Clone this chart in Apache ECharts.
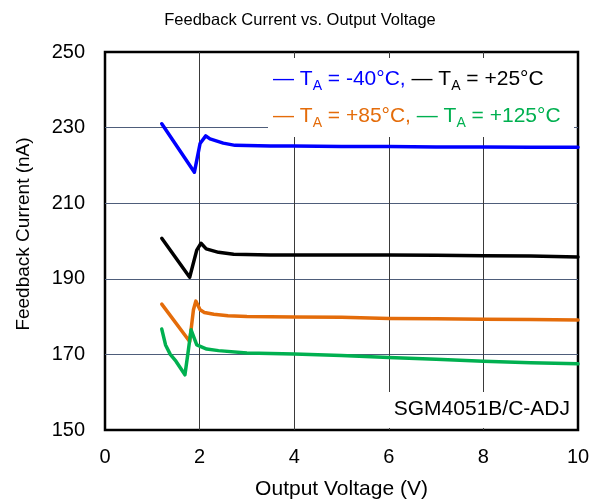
<!DOCTYPE html>
<html><head><meta charset="utf-8">
<script src="https://cdn.jsdelivr.net/npm/echarts@6/dist/echarts.min.js"></script>
<style>html,body{margin:0;padding:0;background:#fff}#c{width:600px;height:501px}</style>
</head><body><div id="c"></div>
<script>
const chartTitle = 'Feedback Current vs. Output Voltage';
const xAxisName = 'Output Voltage (V)';
const yAxisName = 'Feedback Current (nA)';
const annotation = 'SGM4051B/C-ADJ';

const xBlue = [1.2, 1.89, 1.95, 2.01, 2.13, 2.22, 2.5, 2.75, 3.5, 4, 5, 6, 7, 8, 9, 10];
const yBlue = [231, 218.2, 222, 225.8, 227.8, 227, 225.9, 225.3, 225.1, 225.1, 225, 225, 224.9, 224.9, 224.8, 224.8];

const xBlack = [1.2, 1.79, 1.94, 2.03, 2.14, 2.4, 2.72, 3.5, 4, 5, 6, 7, 8, 9, 10];
const yBlack = [200.7, 190.4, 197.6, 199.4, 197.9, 197, 196.5, 196.3, 196.3, 196.3, 196.3, 196.2, 196.1, 196, 195.8];

const xOrange = [1.2, 1.79, 1.87, 1.92, 2.01, 2.1, 2.3, 2.6, 3, 4, 5, 6, 7, 8, 9, 10];
const yOrange = [183.3, 173.4, 181.8, 184.1, 181.8, 181.1, 180.6, 180.2, 180, 179.9, 179.8, 179.5, 179.4, 179.3, 179.2, 179.1];

const xGreen = [1.2, 1.28, 1.38, 1.5, 1.69, 1.75, 1.82, 1.94, 2.15, 2.4, 3, 4, 5, 6, 7, 8, 9, 10];
const yGreen = [176.7, 172.5, 170, 168.2, 164.6, 170, 176.5, 172.5, 171.4, 171, 170.4, 170.1, 169.7, 169.2, 168.7, 168.2, 167.8, 167.5];

const xTickValues = [0, 2, 4, 6, 8, 10];
const yTickValues = [150, 170, 190, 210, 230, 250];

const zip = (xs, ys) => xs.map((x, i) => [x, ys[i]]);
const font = 'Arial, "Liberation Sans", sans-serif';

const chart = echarts.init(document.getElementById('c'), null, {renderer: 'canvas'});
function mkSeries(name, xs, ys, color, z) {
  return {name, type: 'line', data: zip(xs, ys), showSymbol: false, symbol: 'none',
    lineStyle: {color, width: 3.5, cap: 'round', join: 'round'}, z, animation: false};
}
function rich(c1, c2) {
  const main = c => ({fontFamily: font, fontSize: 21, fill: c, lineHeight: 28, verticalAlign: 'middle'});
  const sub = c => ({fontFamily: font, fontSize: 14, fill: c, lineHeight: 28, verticalAlign: 'bottom'});
  return {a: main(c1), as: sub(c1), b: main(c2), bs: sub(c2)};
}
chart.setOption({
  animation: false,
  backgroundColor: '#fff',
  title: {text: chartTitle, left: 'center', top: 7,
    textStyle: {fontFamily: font, fontSize: 16.5, fontWeight: 'normal', color: '#000'}},
  grid: {left: 105, right: 22, top: 52, bottom: 71, containLabel: false, outerBoundsMode: 'none',
    show: true, borderColor: '#000', borderWidth: 2.5, backgroundColor: 'transparent'},
  xAxis: {type: 'value', min: xTickValues[0], max: xTickValues[xTickValues.length - 1], interval: 2,
    name: xAxisName, nameLocation: 'middle', nameGap: 49,
    nameTextStyle: {fontFamily: font, fontSize: 21, color: '#000'},
    axisLine: {show: false}, axisTick: {show: false},
    axisLabel: {fontFamily: font, fontSize: 20, color: '#000', margin: 17},
    splitLine: {show: true, showMinLine: false, showMaxLine: false, lineStyle: {color: '#3a3a3a', width: 1}}},
  yAxis: {type: 'value', min: yTickValues[0], max: yTickValues[yTickValues.length - 1], interval: 20,
    name: yAxisName, nameLocation: 'middle', nameGap: 72,
    nameTextStyle: {fontFamily: font, fontSize: 19, color: '#000', padding: [0, 0, 0, 14]},
    axisLine: {show: false}, axisTick: {show: false},
    axisLabel: {fontFamily: font, fontSize: 20, color: '#000', margin: 20},
    splitLine: {show: true, showMinLine: false, showMaxLine: false, lineStyle: {color: '#4e5d7a', width: 1}}},
  series: [
    mkSeries('-40', xBlue, yBlue, '#0000ff', 4),
    mkSeries('25', xBlack, yBlack, '#000000', 3),
    mkSeries('85', xOrange, yOrange, '#e46c0a', 2),
    mkSeries('125', xGreen, yGreen, '#00b050', 5)
  ],
  graphic: [
    {type: 'rect', left: 268, top: 58, shape: {width: 306, height: 79}, style: {fill: '#fff'}, z: 1},
    {type: 'rect', left: 384, top: 392, shape: {width: 190, height: 36}, style: {fill: '#fff'}, z: 1},
    {type: 'text', left: 273, top: 69, z: 10, style: {
      text: '{a|— T}{as|A}{a| = -40°C, }{b|— T}{bs|A}{b| = +25°C}',
      rich: rich('#0000ff', '#000000')}},
    {type: 'text', left: 273, top: 106, z: 10, style: {
      text: '{a|— T}{as|A}{a| = +85°C, }{b|— T}{bs|A}{b| = +125°C}',
      rich: rich('#e46c0a', '#00b050')}},
    {type: 'text', right: 30, top: 399, z: 10, style: {
      text: annotation, fontFamily: font, fontSize: 21, fill: '#000'}}
  ]
});
</script></body></html>
